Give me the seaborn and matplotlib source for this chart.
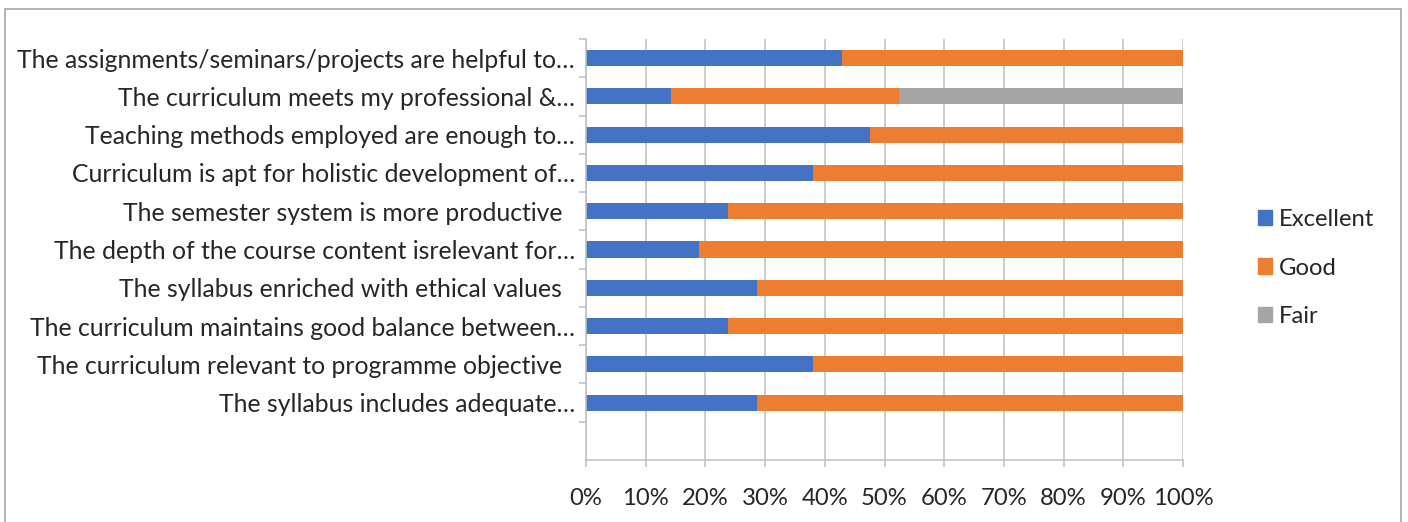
import matplotlib.pyplot as plt
import matplotlib.patches as mpatches
import seaborn as sns
import pandas as pd
from matplotlib.ticker import FixedLocator, PercentFormatter

sns.set_style("white")
plt.rcParams["font.family"] = ["Lato", "DejaVu Sans"]

questions = [
    "The assignments/seminars/projects are helpful to…",
    "The curriculum meets my professional &…",
    "Teaching methods employed are enough to…",
    "Curriculum is apt for holistic development of…",
    "The semester system is more productive  ",
    "The depth of the course content isrelevant for…",
    "The syllabus enriched with ethical values  ",
    "The curriculum maintains good balance between…",
    "The curriculum relevant to programme objective  ",
    "The syllabus includes adequate…",
]
excellent = [42.9, 14.3, 47.6, 38.1, 23.8, 19.0, 28.6, 23.8, 38.1, 28.6]
good = [57.1, 38.1, 52.4, 61.9, 76.2, 81.0, 71.4, 76.2, 61.9, 71.4]
fair = [0, 47.6, 0, 0, 0, 0, 0, 0, 0, 0]

colors = {"Excellent": "#4472C4", "Good": "#ED7D31", "Fair": "#A5A5A5"}

df = pd.DataFrame({"question": questions, "Excellent": excellent,
                   "Good": good, "Fair": fair})
df["to_good"] = df["Excellent"] + df["Good"]
df["to_fair"] = df["to_good"] + df["Fair"]

fig = plt.figure(figsize=(14.08, 5.22), dpi=100)
ax = fig.add_axes([586 / 1408, 1 - 460 / 522, 597 / 1408, 421 / 522])

# stacked bars: draw cumulative totals back to front
for col, name in [("to_fair", "Fair"), ("to_good", "Good"), ("Excellent", "Excellent")]:
    sns.barplot(data=df, x=col, y="question", order=questions, orient="h",
                color=colors[name], width=0.42, linewidth=0, saturation=1, ax=ax)

ax.set_ylim(10.5, -0.5)
ax.set_xlim(0, 100)
ax.set_xlabel("")
ax.set_ylabel("")

fs = 17.8
grid_c = "#BFBFBF"
ax.set_axisbelow(True)
ax.xaxis.set_major_locator(FixedLocator(range(0, 101, 10)))
ax.xaxis.set_major_formatter(PercentFormatter(decimals=0))
ax.grid(axis="x", color=grid_c, linewidth=1.1)
ax.tick_params(axis="x", direction="out", length=5, width=1.1, color=grid_c,
               labelsize=17.2, pad=15, bottom=True)
ax.tick_params(axis="y", which="major", length=0, labelsize=fs, pad=8)
ax.yaxis.set_minor_locator(FixedLocator([i - 0.5 for i in range(11)]))
ax.tick_params(axis="y", which="minor", direction="out", length=5, width=1.1,
               color=grid_c, left=True)

for side in ["top", "right"]:
    ax.spines[side].set_visible(False)
for side in ["left", "bottom"]:
    ax.spines[side].set_color(grid_c)
    ax.spines[side].set_linewidth(1.1)

handles = [mpatches.Patch(color=colors[n], label=n) for n in ["Excellent", "Good", "Fair"]]
fig.legend(handles=handles, loc="center left", bbox_to_anchor=(1236 / 1408, 1 - 268 / 522),
           frameon=False, fontsize=17.2, handlelength=0.6, handleheight=0.6,
           handletextpad=0.3, labelspacing=1.15)

fig.patches.append(mpatches.Rectangle((5 / 1408, -0.1), 1396 / 1408, 1.1 - 9 / 522,
                                      transform=fig.transFigure, fill=False,
                                      edgecolor="#A6A6A6", linewidth=1.2))

fig.savefig("out.png", dpi=100)
plt.close(fig)
